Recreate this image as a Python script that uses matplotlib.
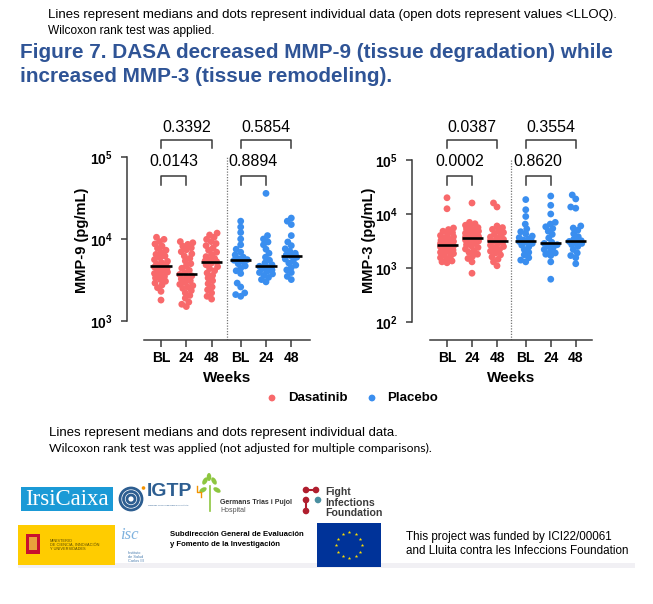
import matplotlib.pyplot as plt
import matplotlib.patches as mpatches
from matplotlib.transforms import blended_transform_factory
import numpy as np

plt.rcParams['font.family'] = ['Liberation Sans', 'DejaVu Sans']
plt.rcParams['mathtext.fontset'] = 'custom'
plt.rcParams['mathtext.rm'] = 'Liberation Sans'
plt.rcParams['mathtext.bf'] = 'Liberation Sans:bold'

W, H = 653, 604
DASA = '#F8696B'
PLAC = '#3A8EEF'
TITLE_BLUE = '#2F5496'
AXC = '#3a3a3a'

groups = ['BL', '24', '48', 'BL', '24', '48']
group_pos = [0, 1, 2, 3.15, 4.15, 5.15]
group_color = [DASA, DASA, DASA, PLAC, PLAC, PLAC]

# ---- MMP-9 (pg/mL) ----
mmp9_dasa_bl = [10500, 9900, 9300, 8700, 8200, 7700, 7300, 6900, 6500, 6200, 5900,
                5600, 5350, 5150, 4950, 4800, 4700, 4550, 4400, 4250, 4100, 3950,
                3800, 3650, 3500, 3350, 3200, 3050, 2900, 2750, 2550, 2300, 1800]
mmp9_dasa_24 = [9300, 9000, 8600, 8200, 7800, 7400, 7000, 6600, 6200, 5800, 5400,
                5000, 4700, 4400, 4150, 3900, 3700, 3550, 3400, 3250, 3100, 2950,
                2800, 2700, 2600, 2500, 2350, 2200, 2050, 1900, 1700, 1600, 1500]
mmp9_dasa_48 = [11800, 11200, 10500, 9900, 9300, 8800, 8300, 7800, 7300, 6900, 6500,
                6100, 5800, 5550, 5400, 5300, 5100, 4850, 4600, 4350, 4100, 3850,
                3600, 3350, 3100, 2850, 2600, 2400, 2200, 2000, 1850]
mmp9_plac_bl = [16500, 14000, 12000, 10000, 8500, 7500, 6900, 6400, 6000, 5750, 5600,
                5500, 5300, 5000, 4700, 4400, 4100, 3800, 2900, 2600, 2200, 2100, 2000]
mmp9_plac_24 = [36000, 11000, 10000, 9200, 8500, 7500, 6700, 6000, 5500, 5100, 4850,
                4650, 4500, 4350, 4200, 4050, 3900, 3750, 3600, 3400, 3200, 3000]
mmp9_plac_48 = [18000, 16500, 15000, 11000, 9200, 8300, 7600, 7100, 6700, 6400, 6200,
                6000, 5700, 5400, 5100, 4800, 4500, 4200, 3900, 3500, 3200]
mmp9_pvals = ['0.0143', '0.3392', '0.8894', '0.5854']

# ---- MMP-3 (pg/mL) ----
mmp3_dasa_bl = [20000, 12500, 5500, 5150, 4800, 4500, 4250, 4000, 3800, 3600, 3400,
                3250, 3100, 2950, 2850, 2750, 2650, 2550, 2450, 2350, 2250, 2150,
                2050, 1950, 1850, 1750, 1650, 1550, 1450, 1350, 1300, 1250]
mmp3_dasa_24 = [16000, 7000, 6600, 6200, 5900, 5600, 5300, 5050, 4800, 4600, 4400,
                4200, 4000, 3850, 3750, 3650, 3600, 3550, 3450, 3300, 3150, 3000,
                2850, 2700, 2550, 2400, 2250, 2100, 1950, 1800, 1650, 1500, 1300, 800]
mmp3_dasa_48 = [16000, 13500, 6000, 5600, 5200, 4850, 4550, 4250, 4000, 3750, 3550,
                3400, 3250, 3150, 3100, 2950, 2800, 2650, 2500, 2350, 2200, 2050,
                1900, 1750, 1600, 1450, 1300, 1100]
mmp3_plac_bl = [18500, 12000, 9000, 6500, 5300, 4700, 4300, 3900, 3650, 3450, 3300,
                3200, 3100, 3000, 2850, 2650, 2450, 2200, 1950, 1750, 1550, 1400, 1300]
mmp3_plac_24 = [21500, 14500, 10000, 7000, 6500, 5800, 5400, 4800, 4200, 3600, 3000,
                2850, 2700, 2550, 2400, 2200, 2000, 1900, 1800, 1700, 1300, 620]
mmp3_plac_48 = [22500, 19000, 13500, 12800, 6000, 5500, 5000, 4300, 3800, 3400, 3200,
                3100, 3000, 2850, 2700, 2500, 2200, 1900, 1700, 1550, 1200]
mmp3_pvals = ['0.0002', '0.0387', '0.8620', '0.3554']

bracket_pairs = [(0, 1, 'low'), (0, 2, 'high'), (3, 4, 'low'), (3, 5, 'high')]
bracket_y = {'low': (0.745, 0.705, 0.812), 'high': (0.907, 0.873, 0.968)}

fig = plt.figure(figsize=(W / 100, H / 100), dpi=100)
bg = fig.add_axes([0, 0, 1, 1])
bg.set_xlim(0, W)
bg.set_ylim(H, 0)
bg.axis('off')


def swarm(ax, x0, vals, color, unit_px, gap=5.0, maxoff=6.5):
    # bounded beeswarm in pixel space: pick the least-overlapping slot
    vals = np.asarray(vals, float)
    pts = ax.transData.transform(np.column_stack([np.full(len(vals), x0), vals]))
    ys = pts[:, 1]
    slots = np.arange(-maxoff, maxoff + 0.01, 0.5)
    slots = slots[np.argsort(np.abs(slots), kind='stable')]
    px_ = []
    py_ = []
    offs = np.zeros(len(vals))
    for i in np.argsort(ys):
        best, best_cost = 0.0, None
        for c in slots:
            if px_:
                d = np.hypot(np.array(px_) - c, np.array(py_) - ys[i])
                cost = np.clip(gap - d, 0, None).sum()
            else:
                cost = 0.0
            if best_cost is None or cost < best_cost - 1e-9:
                best, best_cost = c, cost
            if cost == 0:
                break
        offs[i] = best
        px_.append(best)
        py_.append(ys[i])
    ax.scatter(x0 + offs / unit_px, vals, s=24, color=color, edgecolors='none', zorder=3)
    ax.hlines(np.median(vals), x0 - 0.42, x0 + 0.42, color='black', lw=1.9, zorder=4)


def panel(yaxis_px, right_px, first_px, unit_px, dec_lo, dec_hi, px_hi, px_lo,
          data, pvals, ylabel, line_start_px, divider, ylab_x):
    top, bot = 120, 340
    ax = fig.add_axes([yaxis_px / W, 1 - bot / H, (right_px - yaxis_px) / W, (bot - top) / H])
    ax.patch.set_alpha(0)
    per_dec = (px_lo - px_hi) / (dec_hi - dec_lo)
    ax.set_yscale('log')
    ax.set_ylim(10 ** (dec_lo - (bot - px_lo) / per_dec), 10 ** (dec_hi + (px_hi - top) / per_dec))
    ax.set_xlim((yaxis_px - first_px) / unit_px, (right_px - first_px) / unit_px)

    for pos, vals, col in zip(group_pos, data, group_color):
        swarm(ax, pos, vals, col, unit_px)

    for s in ['top', 'right']:
        ax.spines[s].set_visible(False)
    for s in ['left', 'bottom']:
        ax.spines[s].set_color(AXC)
        ax.spines[s].set_linewidth(1.1)
    ax.spines['left'].set_bounds(10 ** dec_lo, 10 ** dec_hi)
    ax.spines['bottom'].set_bounds((line_start_px - first_px) / unit_px, ax.get_xlim()[1])

    ax.set_yticks([10 ** d for d in range(dec_lo, dec_hi + 1)])
    ax.set_yticklabels([r'$\mathbf{10^{%d}}$' % d for d in range(dec_lo, dec_hi + 1)])
    ax.minorticks_off()
    ax.set_xticks(group_pos)
    ax.set_xticklabels(groups, fontweight='bold', fontsize=10)
    ax.tick_params(axis='y', length=4, width=1.1, color=AXC, pad=6, labelsize=10)
    ax.tick_params(axis='x', length=5, width=1.1, color=AXC, pad=3)

    ax.set_ylabel(ylabel, fontweight='bold', fontsize=10.5)
    ax.yaxis.set_label_coords(ylab_x, 0.455)
    ax.text(0.5 * ((line_start_px - first_px) / unit_px + ax.get_xlim()[1]), -0.175, 'Weeks',
            transform=blended_transform_factory(ax.transData, ax.transAxes),
            ha='center', va='center', fontweight='bold', fontsize=11)

    vtop = (bot - px_hi) / (bot - top)
    ax.axvline(divider, ymin=0, ymax=vtop, color='#777777', lw=0.9, ls=(0, (1, 1.2)))

    tr = blended_transform_factory(ax.transData, ax.transAxes)
    for (i, j, lev), p in zip(bracket_pairs, pvals):
        yb, ya, yt = bracket_y[lev]
        xi, xj = group_pos[i], group_pos[j]
        ax.plot([xi, xi, xj, xj], [ya, yb, yb, ya], transform=tr, color=AXC, lw=1.1,
                clip_on=False)
        ax.text((xi + xj) / 2, yt, p, transform=tr, ha='center', va='center',
                fontsize=11.5, clip_on=False)
    return ax


panel(127, 310, 161, 25.3, 3, 5, 157, 321,
      [mmp9_dasa_bl, mmp9_dasa_24, mmp9_dasa_48, mmp9_plac_bl, mmp9_plac_24, mmp9_plac_48],
      mmp9_pvals, 'MMP-9 (pg/mL)', 144, 2.6, -0.205)
panel(412, 592, 447, 25.0, 2, 5, 160, 322,
      [mmp3_dasa_bl, mmp3_dasa_24, mmp3_dasa_48, mmp3_plac_bl, mmp3_plac_24, mmp3_plac_48],
      mmp3_pvals, 'MMP-3 (pg/mL)', 430, 2.57, -0.2)

# ---- header texts ----
bg.text(48, 15, 'Lines represent medians and dots represent individual data (open dots represent values <LLOQ).',
        fontsize=9.5, va='center', ha='left')
bg.text(48, 31, 'Wilcoxon rank test was applied.', fontsize=8.6, va='center', ha='left')
bg.text(20, 52, 'Figure 7. DASA decreased MMP-9 (tissue degradation) while',
        fontsize=14.95, fontweight='bold', color=TITLE_BLUE, va='center')
bg.text(20, 77, 'increased MMP-3 (tissue remodeling).',
        fontsize=14.95, fontweight='bold', color=TITLE_BLUE, va='center')

# ---- legend ----
bg.scatter([272], [398], s=24, color=DASA, edgecolors='none')
bg.text(288, 398, 'Dasatinib', fontweight='bold', fontsize=9.5, va='center')
bg.scatter([372], [398], s=24, color=PLAC, edgecolors='none')
bg.text(387, 398, 'Placebo', fontweight='bold', fontsize=9.5, va='center')

# ---- footnote ----
bg.text(49, 433, 'Lines represent medians and dots represent individual data.', fontsize=9.45, va='center')
bg.text(49, 448, 'Wilcoxon rank test was applied (not adjusted for multiple comparisons).',
        fontsize=8.85, va='center', family=['Lato', 'DejaVu Sans'])

# ---- logos (rough) ----
bg.add_patch(mpatches.Rectangle((18, 563), 617, 5, color='#F1F0F4', lw=0))
bg.add_patch(mpatches.Rectangle((21, 487), 92, 24, color='#1B9AD6', lw=0))
bg.text(67, 499.5, 'IrsiCaixa', color='white', fontsize=16.5, ha='center', va='center',
        family=['Liberation Serif', 'DejaVu Serif'])
for r in [11, 7.5, 4]:
    bg.add_patch(mpatches.Circle((131, 499), r, fill=False, ec='#2D5E91', lw=2))
bg.add_patch(mpatches.Circle((143.5, 488), 1.8, color='#F39200', lw=0))
bg.text(147, 492, 'IGTP', color='#2D5E91', fontsize=14, fontweight='bold', va='center')
bg.text(148, 505, 'Germans Trias i Pujol Research Institute', color='#2D5E91', fontsize=1.6, va='center')
bg.plot([197, 197, 201, 201], [486, 492, 492, 497], color='#F39200', lw=1)
bg.plot([210, 210], [486, 511], color='#8DC63F', lw=1.2)
for lx, ly, ang in [(205, 481, 30), (214, 481, -30), (203, 490, 60), (217, 490, -60), (209, 477, 0)]:
    bg.add_patch(mpatches.Ellipse((lx, ly), 4.5, 8, angle=ang, color='#8DC63F', lw=0))
bg.text(220, 503, 'Germans Trias i Pujol', fontsize=5, fontweight='bold', va='center', color='#333333')
bg.text(220, 511, 'Hospital', fontsize=5, va='center', color='#555555')
bg.plot([306, 316], [490, 490], color='#B01E2E', lw=1.5)
bg.plot([306, 306], [500, 511], color='#B01E2E', lw=1.5)
for cx, cy, cc in [(306, 490, '#B01E2E'), (316, 490, '#B01E2E'), (306, 500, '#B01E2E'),
                   (318, 500, '#4A8FA0'), (306, 511, '#B01E2E')]:
    bg.add_patch(mpatches.Circle((cx, cy), 3.3, color=cc, lw=0))
for k, word in enumerate(['Fight', 'Infections', 'Foundation']):
    bg.text(325, 492 + 10.5 * k, word, fontsize=7.6, fontweight='bold', va='center', color='#3C3C3C')

bg.add_patch(mpatches.Rectangle((18, 525), 97, 40, color='#FFCC00', lw=0))
bg.add_patch(mpatches.Rectangle((26, 534), 14, 20, color='#C8102E', lw=0))
bg.add_patch(mpatches.Rectangle((29, 537), 8, 13, color='#E9A23B', lw=0))
bg.text(50, 545, 'MINISTERIO\nDE CIENCIA, INNOVACIÓN\nY UNIVERSIDADES', fontsize=2.8, va='center',
        color='#5a4a00', linespacing=1.1)
bg.text(120, 535, 'isc', fontsize=12, style='italic', color='#7FB2DE', va='center',
        family=['Liberation Serif', 'DejaVu Serif'])
bg.text(128, 557, 'Instituto\nde Salud\nCarlos III', fontsize=2.8, va='center', color='#4C7FB0',
        linespacing=1.1)
bg.text(170, 534, 'Subdirección General de Evaluación', fontsize=5.6, fontweight='bold', va='center')
bg.text(170, 545, 'y Fomento de la Investigación', fontsize=5.6, fontweight='bold', va='center')
bg.add_patch(mpatches.Rectangle((317, 523), 64, 44, color='#003399', lw=0))
ang = np.linspace(0, 2 * np.pi, 13)[:-1]
bg.scatter(349 + 13 * np.cos(ang), 545 + 13 * np.sin(ang), marker='*', s=7, color='#FFDD00', lw=0)
bg.text(406, 537, 'This project was funded by ICI22/00061', fontsize=8.4, va='center')
bg.text(406, 551, 'and Lluita contra les Infeccions Foundation', fontsize=8.4, va='center')

fig.savefig('out.png', dpi=100)
